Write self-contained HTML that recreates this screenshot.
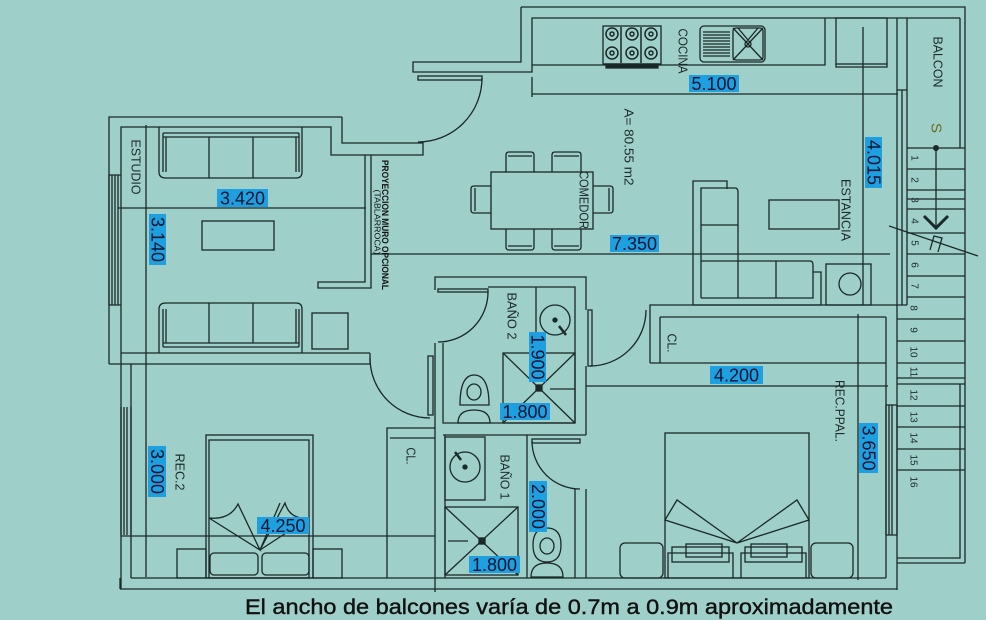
<!DOCTYPE html>
<html><head><meta charset="utf-8"><style>
html,body{margin:0;padding:0;background:#9ecfc9;}
svg{display:block;}
text{font-family:"Liberation Sans",sans-serif;}
.lbl{font-size:18px;fill:#0b1530;}
.rt{font-size:13px;fill:#1e2a2a;}
.sn{font-size:10px;fill:#1e2a2a;}
</style></head><body>
<svg width="986" height="620" viewBox="0 0 986 620" xmlns="http://www.w3.org/2000/svg">
<rect width="986" height="620" fill="#9ecfc9"/>
<g fill="none" stroke="#1b2828" stroke-width="1.3">
<!-- ESTUDIO walls -->
<path d="M342,117 H109 V364"/>
<path d="M342,117 V143 H423 V155 H331 V127 H121 V589"/>
<path d="M131,364 V578"/>
<path d="M121,353 H370 M109,364 H370 M370,353 V364"/>
<path d="M109,175 V305 M112,175 V305 M115,175 V305 M118,175 V305 M109,175 H121 M109,305 H121"/>
<path d="M121,407 V535 M124,407 V535 M127,407 V535 M131,407 V535"/>
<path d="M365,155 V282 H318 V288 H371 V155"/>
<!-- estudio furniture -->
<path d="M159,127 V172 Q159,178 166,178 H296 Q302,178 302,172 V127"/>
<path d="M163,133 H299 M163,137 H299 M163,133 V172 M166,137 V172 M299,133 V172 M296,137 V172"/>
<path d="M209,137 V178 M253,137 V178"/>
<path d="M159,353 V309 Q159,303 166,303 H296 Q302,303 302,309 V353"/>
<path d="M163,347 H299 M163,343 H299 M163,309 V347 M166,309 V343 M299,309 V347 M296,309 V343"/>
<path d="M209,303 V343 M253,303 V343"/>
<rect x="312" y="313" width="36" height="36"/>
<rect x="202" y="221" width="72" height="29"/>
<!-- dimension lines -->
<path d="M118,208 H366 M146,125 V577 M371,254 H890 M121,536 H435 M532,94 H898 M532,77 V97 M863,27 V305 M586,386 H888 M858,314 V580"/>
<!-- kitchen -->
<path d="M521,7 V62 H413 V72 H532 V18 H960 M521,7 H965 V563"/>
<path d="M532,65 H825 V18"/>
<rect x="603" y="26" width="58" height="38"/>
<rect x="606" y="64" width="52" height="4" fill="#1b2828"/>
<g stroke-width="1.5">
<circle cx="612" cy="34" r="6"/><circle cx="632" cy="34" r="6"/><circle cx="651" cy="34" r="6"/>
<circle cx="612" cy="53" r="6"/><circle cx="632" cy="53" r="6"/><circle cx="651" cy="53" r="6"/>
<circle cx="612" cy="34" r="2"/><circle cx="632" cy="34" r="2"/><circle cx="651" cy="34" r="2"/>
<circle cx="612" cy="53" r="2"/><circle cx="632" cy="53" r="2"/><circle cx="651" cy="53" r="2"/>
<path d="M621,27 V63 M641,27 V63"/>
</g>
<rect x="700" y="26" width="65" height="36" rx="4"/>
<path d="M703,32 H730 M703,35 H730 M703,38 H730 M703,41 H730 M703,44 H730 M703,47 H730 M703,50 H730 M703,53 H730 M703,56 H730"/>
<rect x="733" y="28" width="30" height="32" rx="3"/>
<path d="M733,28 L763,60 M763,28 L733,60 M738,28 L748,40 L758,28"/>
<circle cx="748" cy="44" r="3"/>
<rect x="836" y="18" width="51" height="46"/>
<path d="M836,64 V67 H887 V64"/>
<!-- kitchen door -->
<rect x="418" y="76" width="64" height="4"/>
<path d="M482,78 A64,64 0 0 1 418,142"/>
<!-- right side walls -->
<path d="M897,18 V90 H907 M897,90 V305 M902,90 V305 M907,18 V305 M960,18 V148"/>
<!-- balcony / stairs upper -->
<path d="M907,148 H965 M907,169 H965 M907,190 H965 M907,199 H965 M907,209 H965 M907,233 H965 M907,254 H965 M907,276 H965 M907,297 H965"/>
<path d="M936,148 V226"/>
<path d="M924,216 L936,228 L948,216" stroke-width="3"/>
<path d="M889,226 L978,256"/>
<path d="M930,250 L934,236 L942,238 L938,252"/>
<!-- stairs lower -->
<path d="M897,319 H965 M897,341 H965 M897,363 H965 M897,378 H965 M897,384 H965 M897,406 H965 M897,427 H965 M897,449 H965 M897,470 H965 M897,563 H965"/>
<path d="M960,384 V558 H897"/>
<path d="M897,305 V590 M886,317 V578"/>
<path d="M886,405 V535 M889,405 V535 M892,405 V535 M897,405 V535 M886,405 H897 M886,535 H897"/>
<!-- dining -->
<rect x="491" y="172" width="102" height="57"/>
<path d="M506,172 V155 Q506,152 509,152 H531 Q534,152 534,155 V172 M508,156 H532"/>
<path d="M552,172 V155 Q552,152 555,152 H578 Q581,152 581,155 V172 M554,156 H579"/>
<path d="M506,229 V247 Q506,250 509,250 H531 Q534,250 534,247 V229 M508,246 H532"/>
<path d="M552,229 V247 Q552,250 555,250 H578 Q581,250 581,247 V229 M554,246 H579"/>
<path d="M491,186 H474 Q471,186 471,189 V210 Q471,213 474,213 H491 M475,188 V211"/>
<path d="M593,186 H610 Q613,186 613,189 V210 Q613,213 610,213 H593 M609,188 V211"/>
<!-- estancia sofa -->
<path d="M693,305 V181 H727 V189"/>
<path d="M701,298 V188 H735 Q738,188 738,192 V261"/>
<path d="M701,225 H738 M701,261 H810 Q813,261 813,265 V298 H701 M738,261 V298 M776,261 V298"/>
<path d="M813,272 H821 V305 H693"/>
<rect x="769" y="200" width="70" height="29"/>
<rect x="826" y="264" width="45" height="41"/>
<circle cx="850" cy="284" r="11"/>
<!-- bath 2 -->
<path d="M435,290 V277 H586 V310 M586,366 V435"/>
<path d="M488,287 H575 V423 M443,343 V423 H575 M435,343 V428 H387 V578 M443,435 H586"/>
<rect x="438" y="289" width="50" height="3"/>
<path d="M488,292 A50,50 0 0 1 438,342"/>
<path d="M536,287 V353"/>
<rect x="503" y="353" width="72" height="70"/>
<path d="M503,353 L575,423 M575,353 L503,423"/>
<rect x="536" y="385" width="6" height="6" fill="#1b2828"/>
<path d="M550,389 H575"/>
<circle cx="555" cy="320" r="15"/>
<circle cx="555" cy="320" r="2" fill="#1b2828"/>
<path d="M559,326 L566,335" stroke-width="2.5"/>
<path d="M460,405 Q460,375 474,375 Q489,375 489,405 Z"/>
<ellipse cx="474" cy="392" rx="7" ry="8"/>
<path d="M458,423 Q458,410 474,410 Q490,410 490,423 Z"/>
<!-- rec2 door -->
<rect x="428" y="356" width="5" height="59"/>
<path d="M370,358 A60,60 0 0 0 430,418"/>
<!-- bath 1 -->
<path d="M435,428 V592 M445,435 V578 M527,435 V578"/>
<rect x="532" y="439" width="48" height="4"/>
<path d="M532,441 A48,48 0 0 0 580,489"/>
<path d="M575,489 V578 M586,489 V578"/>
<rect x="445" y="437" width="40" height="63"/>
<circle cx="465" cy="467" r="15"/>
<circle cx="465" cy="467" r="2" fill="#1b2828"/>
<path d="M461,460 L455,452" stroke-width="2.5"/>
<rect x="445" y="507" width="73" height="68"/>
<path d="M445,507 L518,575 M518,507 L445,575"/>
<rect x="479" y="538" width="6" height="6" fill="#1b2828"/>
<path d="M448,541 H468"/>
<path d="M533,545 Q533,528 547,528 Q561,528 561,545 Q561,562 547,562 Q533,562 533,545 Z"/>
<ellipse cx="547" cy="546" rx="7" ry="8"/>
<path d="M531,577 Q531,563 547,563 Q563,563 563,577 Z"/>
<!-- closet left -->
<path d="M390,438 H435"/>
<!-- rec ppal -->
<path d="M650,363 V305 H907 M660,317 H886 M660,317 V363 M650,363 H886"/>
<rect x="588" y="310" width="4" height="56"/>
<path d="M590,366 A56,56 0 0 0 646,310"/>
<rect x="665" y="433" width="144" height="145"/>
<path d="M665,520 L737,543 L677,500 Z M809,520 L737,543 L797,500 Z"/>
<path d="M668,578 V553 H733 V578 M741,578 V553 H806 V578"/>
<rect x="672" y="547" width="57" height="15"/>
<rect x="686" y="544" width="36" height="13"/>
<rect x="745" y="547" width="57" height="15"/>
<rect x="751" y="544" width="36" height="13"/>
<rect x="620" y="543" width="43" height="35" rx="5"/>
<rect x="811" y="543" width="42" height="35" rx="5"/>
<!-- rec2 bed -->
<rect x="206" y="435" width="107" height="143"/>
<rect x="209" y="440" width="100" height="138"/>
<path d="M209,518 Q230,520 238,504 L260,550 L209,518 M309,518 Q290,520 285,503 L260,550 L309,518 M260,550 L280,503"/>
<rect x="210" y="553" width="48" height="22" rx="4"/>
<rect x="262" y="553" width="47" height="22" rx="4"/>
<rect x="177" y="549" width="29" height="29"/>
<rect x="313" y="549" width="29" height="29"/>
<!-- bottom walls -->
<path d="M131,578 H886 M120,589 H897 M120,578 V589"/>
</g>
<!-- dots -->
<circle cx="936" cy="148" r="3" fill="#1b2828"/>
<text x="936" y="128" transform="rotate(90 936 128)" text-anchor="middle" dominant-baseline="central" font-size="15" fill="#6e6e22">S</text>
<!-- dimension labels -->
<g>
<rect x="217" y="189" width="51" height="18" fill="#1e9fe0"/><text class="lbl" x="242.5" y="204.5" text-anchor="middle">3.420</text>
<rect x="689" y="75" width="50" height="17" fill="#1e9fe0"/><text class="lbl" x="714" y="90" text-anchor="middle">5.100</text>
<rect x="610" y="235" width="49" height="17" fill="#1e9fe0"/><text class="lbl" x="634.5" y="250" text-anchor="middle">7.350</text>
<rect x="257" y="517" width="52" height="17" fill="#1e9fe0"/><text class="lbl" x="283" y="532" text-anchor="middle">4.250</text>
<rect x="500" y="403" width="50" height="17" fill="#1e9fe0"/><text class="lbl" x="525" y="418" text-anchor="middle">1.800</text>
<rect x="469" y="556" width="51" height="17" fill="#1e9fe0"/><text class="lbl" x="494.5" y="571" text-anchor="middle">1.800</text>
<rect x="710" y="366" width="53" height="18" fill="#1e9fe0"/><text class="lbl" x="736.5" y="381.5" text-anchor="middle">4.200</text>
<rect x="149" y="214" width="17" height="51" fill="#1e9fe0"/><text class="lbl" transform="translate(157.5,239.5) rotate(90)" text-anchor="middle" dominant-baseline="central">3.140</text>
<rect x="148" y="446" width="18" height="51" fill="#1e9fe0"/><text class="lbl" transform="translate(157,471.5) rotate(90)" text-anchor="middle" dominant-baseline="central">3.000</text>
<rect x="529" y="332" width="17" height="50" fill="#1e9fe0"/><text class="lbl" transform="translate(537.5,357) rotate(90)" text-anchor="middle" dominant-baseline="central">1.900</text>
<rect x="529" y="481" width="18" height="51" fill="#1e9fe0"/><text class="lbl" transform="translate(538,506.5) rotate(90)" text-anchor="middle" dominant-baseline="central">2.000</text>
<rect x="865" y="137" width="17" height="51" fill="#1e9fe0"/><text class="lbl" transform="translate(873.5,162.5) rotate(90)" text-anchor="middle" dominant-baseline="central">4.015</text>
<rect x="859" y="423" width="19" height="50" fill="#1e9fe0"/><text class="lbl" transform="translate(868.5,448) rotate(90)" text-anchor="middle" dominant-baseline="central">3.650</text>
</g>
<!-- room labels -->
<g class="rt">
<text class="rt" transform="translate(136,167) rotate(90)" text-anchor="middle" dominant-baseline="central" textLength="55" lengthAdjust="spacingAndGlyphs">ESTUDIO</text>
<text transform="translate(385,225) rotate(90)" text-anchor="middle" dominant-baseline="central" font-size="9" font-weight="bold" fill="#111" textLength="130" lengthAdjust="spacingAndGlyphs">PROYECCION MURO OPCIONAL</text>
<text transform="translate(377,222) rotate(90)" text-anchor="middle" dominant-baseline="central" font-size="8" fill="#111" textLength="65" lengthAdjust="spacingAndGlyphs">(TABLARROCA)</text>
<text class="rt" transform="translate(683,51) rotate(90)" text-anchor="middle" dominant-baseline="central" textLength="45" lengthAdjust="spacingAndGlyphs">COCINA</text>
<text class="rt" transform="translate(629,147) rotate(90)" text-anchor="middle" dominant-baseline="central" textLength="77" lengthAdjust="spacingAndGlyphs">A= 80.55 m2</text>
<text class="rt" transform="translate(584,200) rotate(90)" text-anchor="middle" dominant-baseline="central" textLength="58" lengthAdjust="spacingAndGlyphs">COMEDOR</text>
<text class="rt" transform="translate(846,210) rotate(90)" text-anchor="middle" dominant-baseline="central" textLength="62" lengthAdjust="spacingAndGlyphs">ESTANCIA</text>
<text class="rt" transform="translate(938,62) rotate(90)" text-anchor="middle" dominant-baseline="central" textLength="51" lengthAdjust="spacingAndGlyphs">BALCON</text>
<text class="rt" transform="translate(512,316) rotate(90)" text-anchor="middle" dominant-baseline="central" textLength="47" lengthAdjust="spacingAndGlyphs">BAÑO 2</text>
<text class="rt" transform="translate(505,477) rotate(90)" text-anchor="middle" dominant-baseline="central" textLength="45" lengthAdjust="spacingAndGlyphs">BAÑO 1</text>
<text class="rt" transform="translate(411,456) rotate(90)" text-anchor="middle" dominant-baseline="central" textLength="17" lengthAdjust="spacingAndGlyphs">CL.</text>
<text class="rt" transform="translate(672,343) rotate(90)" text-anchor="middle" dominant-baseline="central" textLength="19" lengthAdjust="spacingAndGlyphs">CL.</text>
<text class="rt" transform="translate(180,472) rotate(90)" text-anchor="middle" dominant-baseline="central" textLength="37" lengthAdjust="spacingAndGlyphs">REC.2</text>
<text class="rt" transform="translate(840,411) rotate(90)" text-anchor="middle" dominant-baseline="central" textLength="62" lengthAdjust="spacingAndGlyphs">REC.PPAL.</text>
</g>
<!-- stair numbers -->
<g class="sn">
<text class="sn" transform="translate(914,158) rotate(90)" text-anchor="middle" dominant-baseline="central">1</text>
<text class="sn" transform="translate(914,180) rotate(90)" text-anchor="middle" dominant-baseline="central">2</text>
<text class="sn" transform="translate(914,200) rotate(90)" text-anchor="middle" dominant-baseline="central">3</text>
<text class="sn" transform="translate(914,221) rotate(90)" text-anchor="middle" dominant-baseline="central">4</text>
<text class="sn" transform="translate(914,243) rotate(90)" text-anchor="middle" dominant-baseline="central">5</text>
<text class="sn" transform="translate(914,265) rotate(90)" text-anchor="middle" dominant-baseline="central">6</text>
<text class="sn" transform="translate(914,286) rotate(90)" text-anchor="middle" dominant-baseline="central">7</text>
<text class="sn" transform="translate(913,308) rotate(90)" text-anchor="middle" dominant-baseline="central">8</text>
<text class="sn" transform="translate(913,330) rotate(90)" text-anchor="middle" dominant-baseline="central">9</text>
<text class="sn" transform="translate(913,352) rotate(90)" text-anchor="middle" dominant-baseline="central">10</text>
<text class="sn" transform="translate(913,372) rotate(90)" text-anchor="middle" dominant-baseline="central">11</text>
<text class="sn" transform="translate(913,395) rotate(90)" text-anchor="middle" dominant-baseline="central">12</text>
<text class="sn" transform="translate(913,417) rotate(90)" text-anchor="middle" dominant-baseline="central">13</text>
<text class="sn" transform="translate(913,438) rotate(90)" text-anchor="middle" dominant-baseline="central">14</text>
<text class="sn" transform="translate(913,460) rotate(90)" text-anchor="middle" dominant-baseline="central">15</text>
<text class="sn" transform="translate(913,482) rotate(90)" text-anchor="middle" dominant-baseline="central">16</text>
</g>
<text x="245" y="614" font-size="21" fill="#111" stroke="#111" stroke-width="0.4" textLength="648" lengthAdjust="spacingAndGlyphs">El ancho de balcones varía de 0.7m a 0.9m aproximadamente</text>
</svg>
</body></html>
